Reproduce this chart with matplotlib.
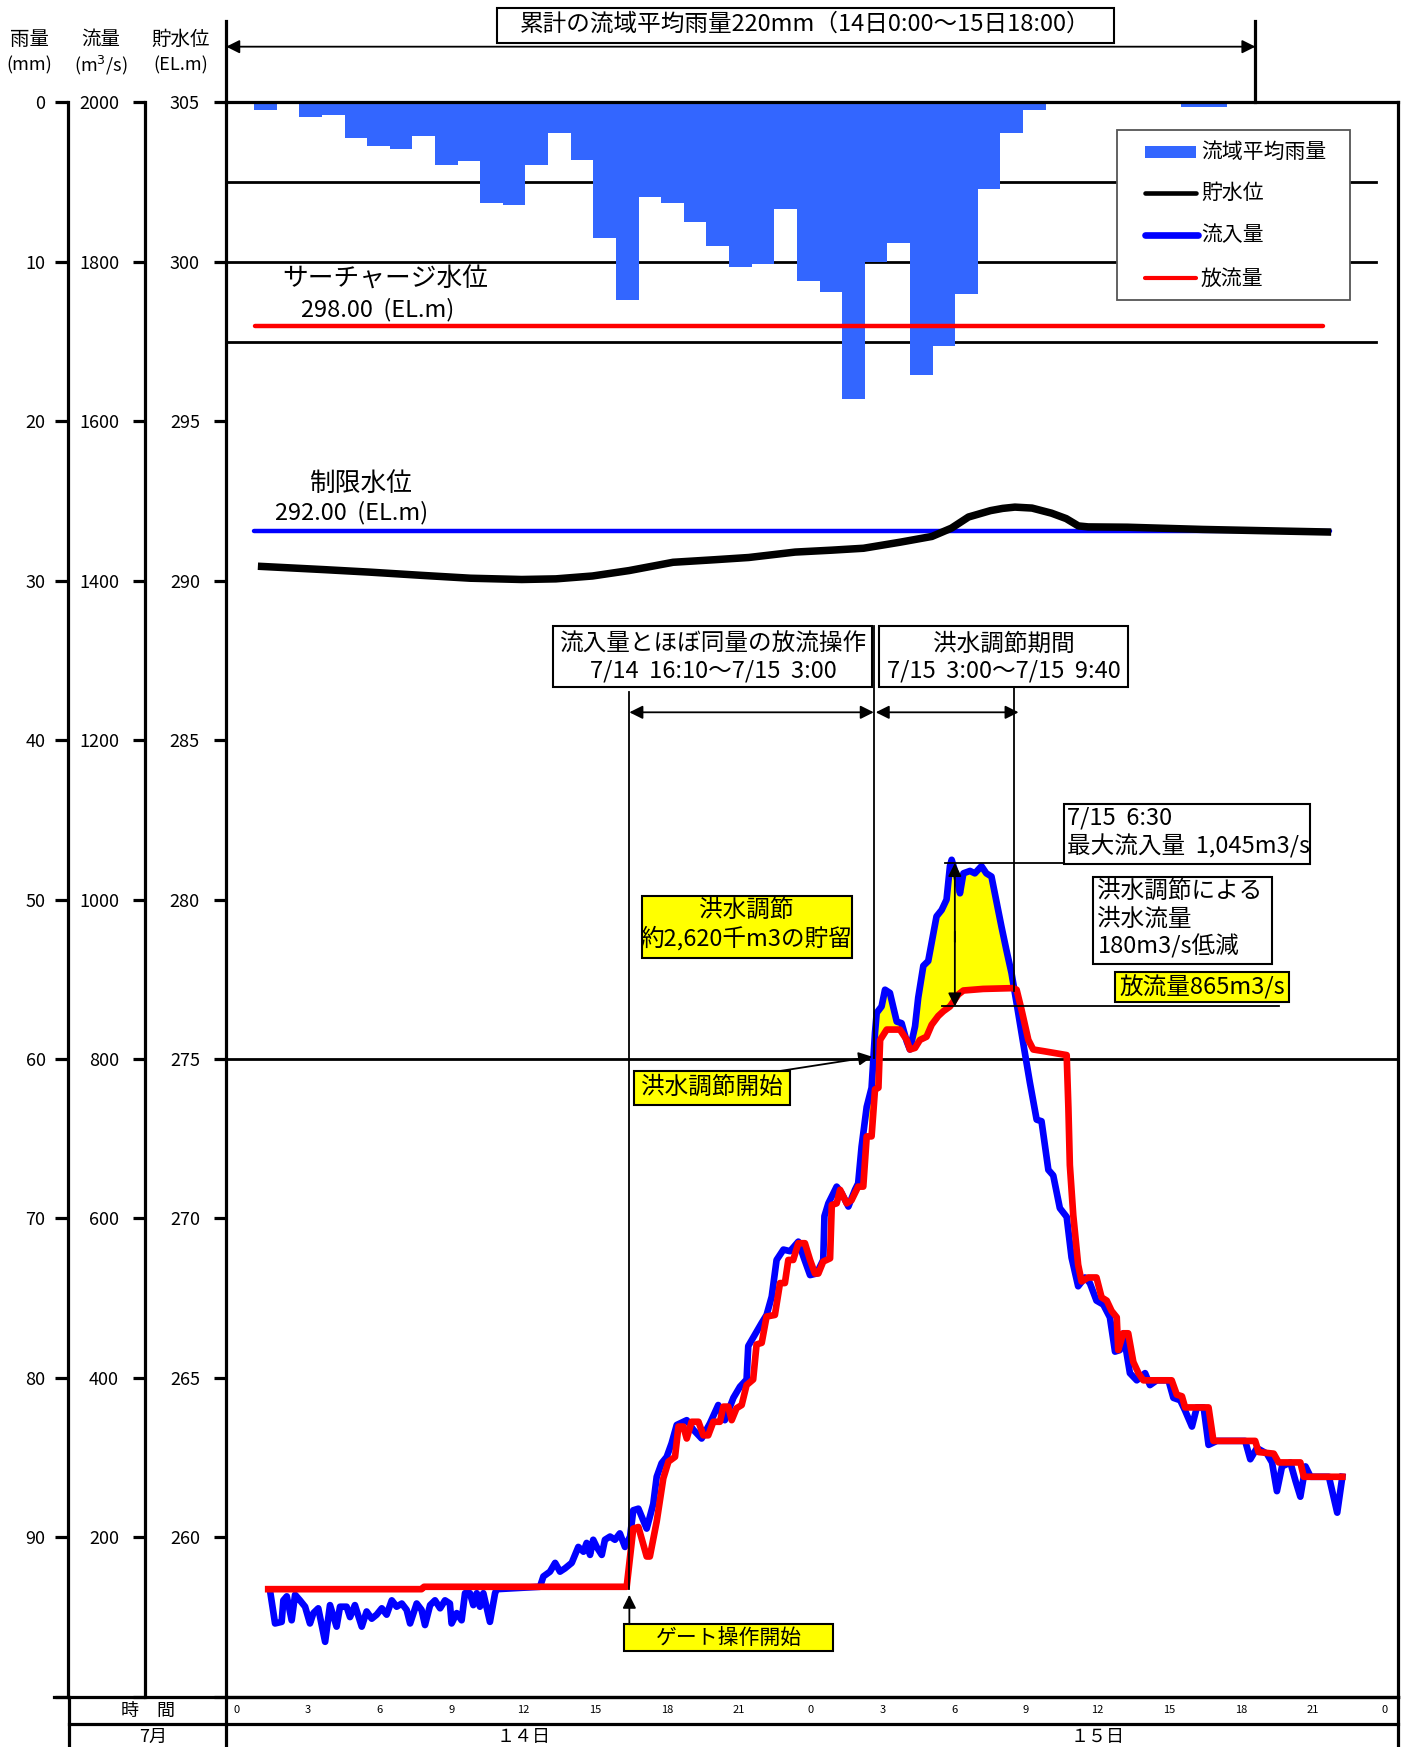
import matplotlib.pyplot as plt
import numpy as np
from matplotlib.patches import Rectangle

plt.rcParams['font.family'] = ['Noto Sans CJK JP', 'DejaVu Sans']

# 流域平均雨量 (mm/h) 1時間ごと
rain = [0.5, 0, 0.9, 0.8, 2.2, 2.7, 2.9, 2.1, 3.9, 3.7, 6.3, 6.4, 3.9, 1.9, 3.6,
        8.5, 12.4, 5.9, 6.3, 7.5, 9.0, 10.3, 10.1, 6.7, 11.2, 11.9, 18.6, 10.0,
        8.8, 17.1, 15.3, 12.0, 5.4, 1.9, 0.5, 0, 0, 0, 0, 0, 0, 0.3, 0.3]

# 貯水位 (EL.m)  時刻は14日0:00からの経過時間
stage_t = [1.45, 4.0, 5.9, 8.0, 10.0, 12.1, 13.5, 15.0, 16.5, 18.3, 20.0, 21.4,
           23.3, 24.8, 26.1, 27.6, 28.9, 29.7, 30.4, 31.3, 31.8, 32.3, 33.0, 33.8,
           34.4, 34.9, 35.3, 36.9, 40.0, 42.5, 45.1]
stage_v = [290.45, 290.35, 290.27, 290.17, 290.08, 290.04, 290.06, 290.15,
           290.32, 290.58, 290.66, 290.73, 290.9, 290.96, 291.02, 291.21,
           291.39, 291.65, 292.0, 292.2, 292.27, 292.31, 292.28, 292.12, 291.95,
           291.72, 291.69, 291.68, 291.61, 291.57, 291.53]

# 流入量 (m3/s)
inflow_t = [1.79, 2.00, 2.27, 2.34, 2.48, 2.68, 2.82, 3.02, 3.23, 3.43,
            3.57, 3.77, 4.05, 4.25, 4.52, 4.66, 4.93, 5.07, 5.27, 5.55,
            5.75, 5.96, 6.16, 6.37, 6.57, 6.78, 6.98, 7.19, 7.39, 7.53,
            7.80, 8.00, 8.14, 8.35, 8.55, 8.76, 8.96, 9.16, 9.23, 9.44,
            9.64, 9.78, 9.98, 10.12, 10.26, 10.39, 10.53, 10.80, 11.01, 11.08,
            12.85, 12.99, 13.26, 13.47, 13.67, 13.87, 14.15, 14.42, 14.63, 14.76,
            14.90, 15.03, 15.17, 15.38, 15.51, 15.72, 15.92, 16.12, 16.33, 16.54,
            16.67, 16.88, 17.22, 17.49, 17.63, 17.83, 18.04, 18.24, 18.45, 18.86,
            19.13, 19.47, 19.81, 20.15, 20.42, 20.77, 21.04, 21.31, 21.38, 21.72,
            21.93, 22.13, 22.34, 22.54, 22.82, 23.09, 23.43, 23.64, 23.91, 24.18,
            24.45, 24.50, 24.66, 25.00, 25.20, 25.48, 25.75, 25.88, 26.02, 26.23,
            26.43, 26.57, 26.64, 26.84, 26.98, 27.18, 27.46, 27.66, 27.87, 28.00,
            28.21, 28.34, 28.55, 28.75, 29.09, 29.30, 29.50, 29.64, 29.71, 29.91,
            30.05, 30.19, 30.46, 30.66, 30.93, 31.13, 31.34, 31.54, 31.75, 31.95,
            32.16, 32.37, 32.64, 32.91, 33.19, 33.39, 33.67, 33.87, 34.14, 34.42,
            34.62, 34.89, 35.17, 35.37, 35.64, 35.92, 36.19, 36.40, 36.60, 36.74,
            37.01, 37.29, 37.63, 37.83, 38.11, 38.59, 38.79, 39.07, 39.27, 39.55,
            39.75, 40.03, 40.23, 40.57, 41.73, 41.94, 42.21, 42.62, 42.83, 43.03,
            43.24, 43.58, 43.79, 43.99, 44.20, 44.41, 45.16, 45.50, 45.71]
inflow_q = [134, 92, 94, 121, 126, 96, 128, 121, 113, 92,
            105, 111, 69, 115, 88, 113, 113, 100, 115, 88,
            107, 98, 103, 111, 103, 121, 113, 117, 109, 92,
            117, 109, 90, 115, 121, 111, 121, 117, 92, 105,
            96, 130, 130, 115, 130, 113, 130, 94, 130, 135,
            138, 151, 157, 168, 157, 161, 168, 188, 182, 193,
            178, 197, 188, 178, 197, 201, 197, 205, 188, 201,
            234, 236, 211, 242, 276, 293, 301, 318, 341, 347,
            335, 324, 343, 366, 347, 375, 389, 398, 440, 458,
            469, 479, 502, 548, 561, 559, 571, 552, 529, 531,
            548, 603, 619, 640, 632, 615, 636, 644, 690, 740,
            764, 833, 858, 866, 887, 883, 847, 845, 822, 812,
            841, 877, 917, 923, 979, 987, 1000, 1042, 1050, 1029,
            1008, 1033, 1036, 1033, 1042, 1033, 1029, 998, 966, 937,
            908, 870, 820, 771, 724, 722, 661, 654, 613, 602,
            551, 515, 526, 519, 497, 492, 476, 433, 435, 456,
            406, 397, 406, 391, 397, 397, 375, 372, 359, 339,
            363, 363, 316, 321, 321, 298, 312, 305, 294, 258,
            289, 294, 271, 251, 289, 276, 276, 231, 276]

# 放流量 (m3/s)
outflow_t = [1.72, 8.0, 8.1, 16.4, 16.67, 16.88, 17.22, 17.35, 17.63, 17.9,
             18.11, 18.38, 18.52, 18.72, 18.86, 19.06, 19.34, 19.54, 19.74, 19.95,
             20.22, 20.36, 20.56, 20.70, 20.90, 21.11, 21.31, 21.58, 21.72, 21.93,
             22.13, 22.47, 22.68, 22.88, 23.02, 23.22, 23.43, 23.70, 23.91, 24.11,
             24.25, 24.45, 24.73, 24.80, 25.00, 25.14, 25.41, 25.61, 25.88, 26.09,
             26.23, 26.43, 26.57, 26.71, 26.78, 27.05, 27.59, 27.87, 28.00, 28.21,
             28.41, 28.68, 28.89, 29.16, 29.37, 29.64, 29.98, 30.19, 31.00, 32.23,
             32.37, 32.57, 32.85, 33.05, 33.46, 34.42, 34.49, 34.55, 34.69, 34.89,
             35.03, 35.30, 35.64, 35.85, 36.06, 36.26, 36.47, 36.53, 36.74, 36.94,
             37.15, 37.36, 37.56, 38.72, 38.93, 39.14, 39.27, 40.23, 40.43, 42.14,
             42.28, 42.90, 43.10, 43.99, 44.13, 45.71]
outflow_q = [135, 135, 138, 138, 211, 213, 176, 176, 220, 274,
             295, 301, 339, 339, 324, 345, 345, 328, 328, 345,
             345, 364, 364, 347, 362, 366, 391, 398, 442, 444,
             477, 479, 519, 519, 548, 548, 569, 569, 548, 531,
             531, 546, 550, 617, 619, 636, 619, 623, 640, 640,
             703, 703, 762, 764, 824, 837, 837, 824, 812, 814,
             824, 828, 843, 854, 860, 866, 881, 886, 888, 889,
             887, 862, 824, 812, 810, 805, 739, 667, 604, 542,
             521, 526, 526, 501, 497, 484, 476, 435, 456, 456,
             420, 406, 397, 397, 379, 377, 363, 363, 321, 321,
             307, 305, 294, 294, 276, 276]

surcharge_lv = 298.0
limit_lv = 291.56
hour_labels = ['0', '3', '6', '9', '12', '15', '18', '21',
               '0', '3', '6', '9', '12', '15', '18', '21', '0']

BLUE_BAR = '#3366ff'
BLUE = '#0000ff'
RED = '#ff0000'

fig = plt.figure(figsize=(14.06, 17.47), dpi=100)
rect = [0.1609, 0.02874, 0.8336, 0.9126]

ax_r = fig.add_axes(rect)
ax = fig.add_axes(rect)
ax.patch.set_visible(False)
ax_q = ax.twinx()
ax_q.patch.set_visible(False)
ax_r.set_zorder(1)
ax.set_zorder(2)
ax_q.set_zorder(3)

for a in (ax_r, ax, ax_q):
    for s in a.spines.values():
        s.set_visible(False)
        s.set_linewidth(2.3)
ax_r.spines['left'].set_visible(True)
ax_r.spines['left'].set_position(('axes', -0.1346))
ax_q.spines['left'].set_visible(True)
ax_q.spines['left'].set_position(('axes', -0.0689))
for s in ('left', 'top', 'right', 'bottom'):
    ax.spines[s].set_visible(True)

# rain axis
ax_r.set_xlim(-1.232, 50.59)
ax_r.set_ylim(100, 0)
ax_r.set_xticks([])
ax_r.yaxis.set_ticks_position('left')
ax_r.set_yticks(np.arange(0, 101, 10))
ax_r.set_yticklabels([str(v) for v in range(0, 100, 10)] + [''])
ax_r.tick_params(axis='y', direction='out', length=9.5, width=2.3, labelsize=13, pad=7)

# stage axis
ax.set_xlim(0, 48)
ax.set_ylim(255, 305)
ax.set_xticks([])
ax.set_yticks(np.arange(255, 306, 5))
ax.set_yticklabels([''] + [str(v) for v in range(260, 306, 5)])
ax.tick_params(axis='y', direction='out', length=9, width=2.3, labelsize=13, pad=10)

# flow axis
ax_q.set_ylim(0, 2000)
ax_q.yaxis.set_ticks_position('left')
ax_q.set_yticks(np.arange(0, 2001, 200))
ax_q.set_yticklabels([''] + [str(v) for v in range(200, 2001, 200)])
ax_q.tick_params(axis='y', direction='out', length=9, width=2.3, labelsize=13, pad=10)

# grid lines and rain bars
for v in (5, 10, 15):
    ax_r.axhline(v, xmax=0.981, color='k', lw=2, zorder=1)
ax_r.axhline(60, color='k', lw=2, zorder=1)
ax_r.bar(np.arange(len(rain)), rain, width=1, align='edge', color=BLUE_BAR,
         linewidth=0, zorder=2)

# stage
ax.plot([1.19, 44.9], [surcharge_lv] * 2, color=RED, lw=3.2, solid_capstyle='round')
ax.plot([1.14, 45.2], [limit_lv] * 2, color=BLUE, lw=3.2, solid_capstyle='round')
ax.plot(stage_t, stage_v, color='k', lw=5.4, solid_joinstyle='round')

# flood control fill
tt = np.union1d(inflow_t, outflow_t)
qi = np.interp(tt, inflow_t, inflow_q)
qo = np.interp(tt, outflow_t, outflow_q)
win = (tt >= 26.4) & (tt <= 32.6)
ax_q.fill_between(tt, qi, qo, where=win & (qi > qo), interpolate=True,
                  color='#ffff00', lw=0, zorder=2)
ax_q.plot(inflow_t, inflow_q, color=BLUE, lw=4.8, solid_joinstyle='round', zorder=3)
ax_q.plot(outflow_t, outflow_q, color=RED, lw=4.8, solid_joinstyle='round', zorder=4)


def box(x0, x1, y0, y1, fc='white', lw=1.5):
    ax_q.add_patch(Rectangle((x0, y0), x1 - x0, y1 - y0, facecolor=fc, edgecolor='k',
                             lw=lw, zorder=6, clip_on=False))


def txt(x, y, s, size=17, ha='center'):
    ax_q.text(x, y, s, fontsize=size, ha=ha, va='center', zorder=7)


def line(xs, ys, lw=1.3):
    ax_q.plot(xs, ys, color='k', lw=lw, zorder=5, clip_on=False)


def arrow(p0, p1, style='-|>'):
    ax_q.annotate('', xy=p1, xytext=p0, annotation_clip=False, zorder=6,
                  arrowprops=dict(arrowstyle=style, color='k', lw=1.3,
                                  mutation_scale=20, shrinkA=0, shrinkB=0))


# header
box(11.09, 36.36, 2074, 2119)
txt(23.72, 2098, '累計の流域平均雨量220mm（14日0:00～15日18:00）', 17)
arrow((0, 2070), (42.15, 2070), '<|-|>')
line([42.15, 42.15], [2000, 2102], 2.3)
line([0, 0], [2000, 2102], 2.3)

# left header labels
for xh, t1, t2 in ((-8.05, '雨量', '(mm)'), (-5.15, '流量', '(m$^3$/s)'),
                   (-1.87, '貯水位', '(EL.m)')):
    ax_q.text(xh, 2079, t1, fontsize=14, ha='center', va='center')
    ax_q.text(xh, 2046, t2, fontsize=13, ha='center', va='center')

# level labels
txt(2.28, 1778, 'サーチャージ水位', 18.5, 'left')
txt(3.06, 1740, '298.00  (EL.m)', 17, 'left')
txt(3.42, 1522, '制限水位', 18.5, 'left')
txt(2.0, 1485, '292.00  (EL.m)', 17, 'left')

# operation period boxes
box(13.37, 26.46, 1267, 1343)
txt(19.94, 1320, '流入量とほぼ同量の放流操作')
txt(19.94, 1287, '7/14  16:10～7/15  3:00')
box(26.73, 36.95, 1267, 1343)
txt(31.84, 1320, '洪水調節期間')
txt(31.84, 1287, '7/15  3:00～7/15  9:40')
line([16.51, 16.51], [135, 1260])
line([26.52, 26.52], [801, 1343])
line([32.25, 32.25], [885, 1267])
arrow((16.51, 1235), (26.52, 1235), '<|-|>')
arrow((26.6, 1235), (32.45, 1235), '<|-|>')

box(17.02, 25.64, 927, 1004, '#ffff00')
txt(21.30, 986, '洪水調節')
txt(21.30, 951, '約2,620千m3の貯留')

box(16.7, 23.08, 743, 785, '#ffff00')
txt(19.89, 764, '洪水調節開始')
arrow((22.67, 785), (26.45, 803))

box(16.29, 24.86, 57, 91, '#ffff00')
txt(20.57, 74, 'ゲート操作開始', 15)
arrow((16.51, 91), (16.51, 128))

# peak annotations
box(34.31, 44.39, 1045, 1120)
txt(34.44, 1102, '7/15  6:30', 17, 'left')
txt(34.44, 1067, '最大流入量  1,045m3/s', 17, 'left')
line([29.43, 43.07], [1046, 1046])
box(35.49, 42.84, 919, 1029)
txt(35.68, 1011, '洪水調節による', 17, 'left')
txt(35.68, 975, '洪水流量', 17, 'left')
txt(35.68, 941, '180m3/s低減', 17, 'left')
box(36.4, 43.52, 871, 909, '#ffff00')
txt(39.96, 890, '放流量865m3/s')
line([29.33, 43.11], [866, 866])
arrow((29.84, 947), (29.84, 1046))
arrow((29.84, 960), (29.84, 866))

# legend
ax_q.add_patch(Rectangle((36.5, 1752), 9.53, 213, facecolor='white', edgecolor='#555555',
                         lw=1.3, zorder=6))
ax_q.add_patch(Rectangle((37.62, 1930), 2.1, 16, facecolor=BLUE_BAR, lw=0, zorder=7))
ax_q.plot([37.62, 39.72], [1886.5, 1886.5], color='k', lw=3.3, solid_capstyle='round', zorder=7)
ax_q.plot([37.62, 39.8], [1834, 1834], color=BLUE, lw=4.8, solid_capstyle='round', zorder=7)
ax_q.plot([37.62, 39.72], [1780, 1780], color=RED, lw=3.0, solid_capstyle='round', zorder=7)
for yv, s in ((1938, '流域平均雨量'), (1886, '貯水位'), (1833, '流入量'), (1779, '放流量')):
    txt(39.92, yv, s, 15, 'left')

# time table
line([-7.07, 48], [0, 0], 2.3)
line([-6.43, 48], [-33.6, -33.6], 2.3)
line([-6.43, -6.43], [-64, 0], 2.3)
line([0, 0], [-64, 0], 2.3)
line([48, 48], [-64, 0], 2.3)
ax_q.text(-3.19, -18, '時　間', fontsize=13, ha='center', va='center')
ax_q.text(-3.0, -50, '7月', fontsize=13, ha='center', va='center')
ax_q.text(12.18, -50, '１４日', fontsize=13, ha='center', va='center')
ax_q.text(35.68, -50, '１５日', fontsize=13, ha='center', va='center')
for xp, s in zip(0.41 + 0.98 * np.arange(0, 49, 3), hour_labels):
    ax_q.text(xp, -17, s, fontsize=8, ha='center', va='center')

fig.savefig('out.png', dpi=100, facecolor='white')
